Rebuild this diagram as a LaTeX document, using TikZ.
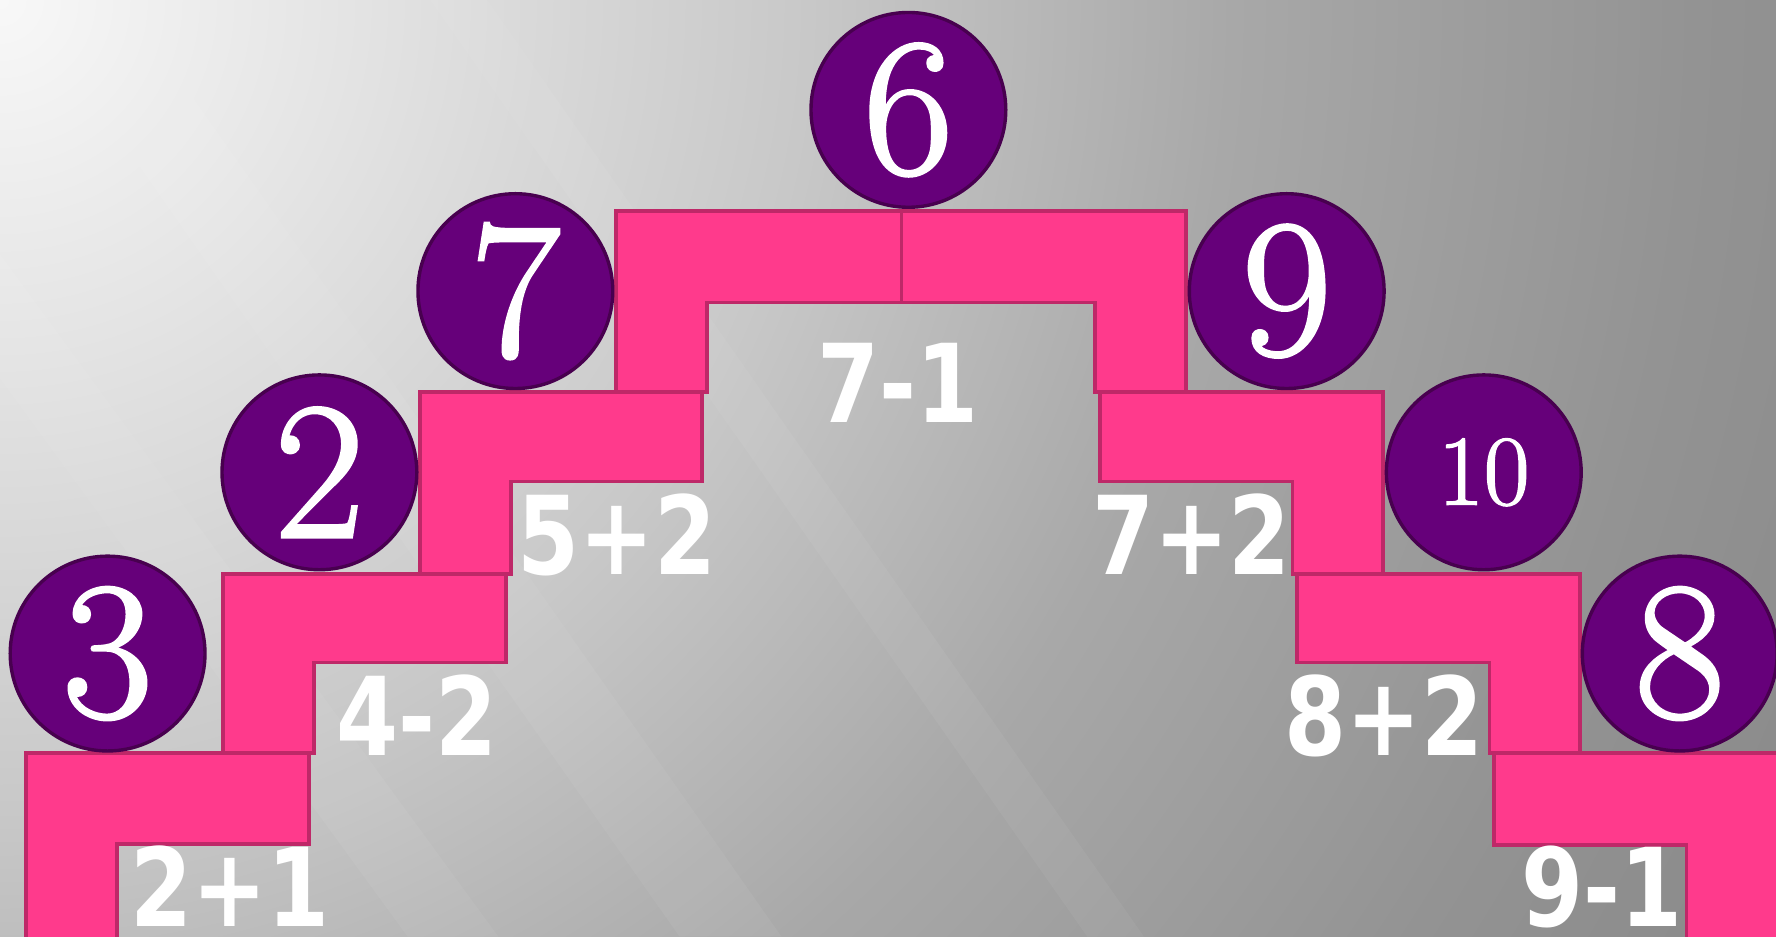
\documentclass[tikz,border=0pt]{standalone}
\usepackage{fontspec}
\usepackage{graphicx}
\newfontfamily\labfont{DejaVu Sans}
\newfontfamily\discfont{Latin Modern Roman}[FakeBold=1.6]
\definecolor{bg0}{HTML}{F8F8F8}
\definecolor{bg1}{HTML}{E4E4E4}
\definecolor{bg2}{HTML}{C8C8C8}
\definecolor{bg3}{HTML}{A8A8A8}
\definecolor{bg4}{HTML}{939393}
\definecolor{bg5}{HTML}{8C8C8C}
\definecolor{pinkfill}{HTML}{FF3A8C}
\definecolor{pinkline}{HTML}{BE2868}
\definecolor{discfill}{HTML}{66007A}
\definecolor{discline}{HTML}{48004F}
\pgfdeclareradialshading{bgshade}{\pgfpointorigin}{color(0bp)=(bg0); color(4.5bp)=(bg1); color(10.5bp)=(bg2); color(16bp)=(bg3); color(22bp)=(bg4); color(25bp)=(bg5); color(50bp)=(bg5)}
\begin{document}
\begin{tikzpicture}[x=1pt,y=-1pt,
  lshape/.style={fill=pinkfill, draw=pinkline, line width=3.3pt, line join=miter},
  disc/.style={circle, fill=discfill, draw=discline, line width=3pt, minimum size=172pt, inner sep=0pt, text=white, font=\discfont\fontsize{173}{173}\selectfont},
  smalldisc/.style={disc, font=\discfont\fontsize{88}{88}\selectfont},
  lab/.style={text=white, inner sep=0pt, anchor=base, font=\labfont\bfseries\fontsize{96}{96}\selectfont},
  streak/.style={fill=white, opacity=0.05}]
\useasboundingbox (0,0) rectangle (1568,827);
\begin{scope}
\clip (0,0) rectangle (1568,827);
\fill[bg5] (0,0) rectangle (1568,827);
\path[shading=bgshade] (0,0) circle (1700);
\fill[streak] (20,0) -- (110,0) -- (690,827) -- (600,827) -- cycle;
\fill[streak] (380,0) -- (430,0) -- (1010,827) -- (960,827) -- cycle;
\fill[streak] (-200,60) -- (-120,60) -- (440,827) -- (360,827) -- cycle;
\end{scope}
% left steps
\draw[lshape] (23,665) -- (273,665) -- (273,745) -- (103,745) -- (103,829) -- (23,829) -- cycle;
\draw[lshape] (197,507) -- (447,507) -- (447,585) -- (277,585) -- (277,665) -- (197,665) -- cycle;
\draw[lshape] (371,346) -- (620,346) -- (620,425) -- (451,425) -- (451,507) -- (371,507) -- cycle;
\draw[lshape] (544,186) -- (796,186) -- (796,267) -- (624,267) -- (624,346) -- (544,346) -- cycle;
% right steps
\draw[lshape] (796,186) -- (1047,186) -- (1047,346) -- (967,346) -- (967,267) -- (796,267) -- cycle;
\draw[lshape] (971,346) -- (1221,346) -- (1221,507) -- (1141,507) -- (1141,425) -- (971,425) -- cycle;
\draw[lshape] (1145,507) -- (1395,507) -- (1395,665) -- (1315,665) -- (1315,585) -- (1145,585) -- cycle;
\draw[lshape] (1319,665) -- (1572,665) -- (1572,829) -- (1489,829) -- (1489,746) -- (1319,746) -- cycle;
% discs
\node[disc] (n3) at (95,577) {3};
\node[disc] (n2) at (282,417) {2};
\node[disc] (n7) at (455,257) {7};
\node[disc] (n6) at (802,97) {6};
\node[disc] (n9) at (1136,257) {9};
\node[smalldisc] (n10) at (1310,417) {10};
\node[disc] (n8) at (1483,577) {8};
% labels
\node[lab] (l21) at (203,818) {\scalebox{0.82}[1]{2+1}};
\node[lab] (l42) at (368,667) {\scalebox{0.82}[1]{4-2}};
\node[lab] (l52) at (545,507) {\scalebox{0.82}[1]{5+2}};
\node[lab] (l71) at (793,373) {\scalebox{0.82}[1]{7-1}};
\node[lab] (l72) at (1052,507) {\scalebox{0.82}[1]{7+2}};
\node[lab] (l82) at (1222,667) {\scalebox{0.82}[1]{8+2}};
\node[lab] (l91) at (1414,818) {\scalebox{0.82}[1]{9-1}};
\end{tikzpicture}
\end{document}
